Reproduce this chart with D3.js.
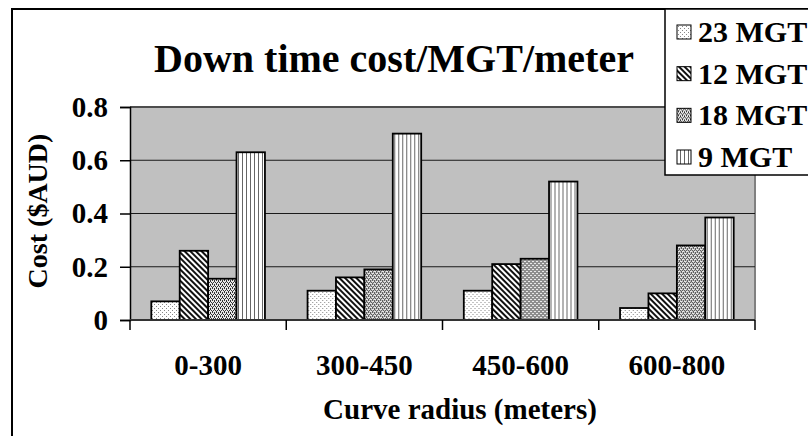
<!DOCTYPE html>
<html>
<head>
<meta charset="utf-8">
<script src="https://cdn.jsdelivr.net/npm/d3@7"></script>
<style>
  html, body { margin: 0; padding: 0; background: #fff; }
  svg { display: block; }
  text { font-family: "Liberation Serif", "Times New Roman", serif; font-weight: bold; fill: #000; }
</style>
</head>
<body>
<svg id="chart" width="808" height="436"></svg>
<script>
// Curve radius bands and MGT series
const categories = ["0-300", "300-450", "450-600", "600-800"];
const seriesNames = ["23 MGT", "12 MGT", "18 MGT", "9 MGT"];
const mgt23 = [0.07, 0.11, 0.11, 0.045];
const mgt12 = [0.26, 0.16, 0.21, 0.10];
const mgt18 = [0.155, 0.19, 0.23, 0.28];
const mgt9  = [0.63, 0.70, 0.52, 0.385];
const yTicks = [0, 0.2, 0.4, 0.6, 0.8];
const yTickLabels = ["0", "0.2", "0.4", "0.6", "0.8"];

const seriesValues = [mgt23, mgt12, mgt18, mgt9];
const patternIds = ["pat-stipple", "pat-hatch", "pat-dots", "pat-vlines"];

const svg = d3.select("#chart");
const defs = svg.append("defs");

// Light stipple
const p1 = defs.append("pattern").attr("id", "pat-stipple").attr("patternUnits", "userSpaceOnUse")
  .attr("width", 4).attr("height", 4);
p1.append("rect").attr("width", 4).attr("height", 4).attr("fill", "#fff");
p1.append("rect").attr("x", 0).attr("y", 0).attr("width", 1).attr("height", 1).attr("fill", "#888");
p1.append("rect").attr("x", 2).attr("y", 2).attr("width", 1).attr("height", 1).attr("fill", "#888");

// Dense diagonal hatching
const p2 = defs.append("pattern").attr("id", "pat-hatch").attr("patternUnits", "userSpaceOnUse")
  .attr("width", 4).attr("height", 4).attr("patternTransform", "rotate(-45)");
p2.append("rect").attr("width", 4).attr("height", 4).attr("fill", "#fff");
p2.append("rect").attr("x", 0).attr("y", 0).attr("width", 2).attr("height", 4).attr("fill", "#111");

// Dense dot grid
const p3 = defs.append("pattern").attr("id", "pat-dots").attr("patternUnits", "userSpaceOnUse")
  .attr("width", 4).attr("height", 4);
p3.append("rect").attr("width", 4).attr("height", 4).attr("fill", "#e8e8e8");
[[0,0],[2,0],[1,2],[3,2],[0,1],[2,3]].forEach(([x,y]) =>
  p3.append("rect").attr("x", x).attr("y", y).attr("width", 1).attr("height", 1).attr("fill", "#333"));

// Vertical lines
const p4 = defs.append("pattern").attr("id", "pat-vlines").attr("patternUnits", "userSpaceOnUse")
  .attr("width", 4).attr("height", 4);
p4.append("rect").attr("width", 4).attr("height", 4).attr("fill", "#fff");
p4.append("rect").attr("x", 0).attr("y", 0).attr("width", 1).attr("height", 4).attr("fill", "#666");

// Chart frame
svg.append("rect").attr("x", 12).attr("y", 9).attr("width", 900).attr("height", 600)
  .attr("fill", "#fff").attr("stroke", "#000").attr("stroke-width", 2);

const plot = { left: 130, right: 755, top: 107, bottom: 320 };

const x0 = d3.scaleBand().domain(categories).range([plot.left, plot.right]).padding(0);
const x1 = d3.scaleBand().domain(seriesNames).range([0, x0.bandwidth()])
  .paddingInner(0).paddingOuter(0.75);
const y = d3.scaleLinear().domain([0, 0.8]).range([plot.bottom, plot.top]);

// Plot area
svg.append("rect").attr("x", plot.left).attr("y", plot.top)
  .attr("width", plot.right - plot.left).attr("height", plot.bottom - plot.top)
  .attr("fill", "#c0c0c0");
svg.append("path")
  .attr("d", `M${plot.left},${plot.top}H${plot.right}V${plot.bottom}`)
  .attr("fill", "none").attr("stroke", "#808080").attr("stroke-width", 2);

// Gridlines
svg.append("g").selectAll("line").data(yTicks.filter(d => d > 0)).join("line")
  .attr("x1", plot.left).attr("x2", plot.right)
  .attr("y1", d => y(d)).attr("y2", d => y(d))
  .attr("stroke", "#1a1a1a").attr("stroke-width", 1.2);

// Bars
const groups = svg.append("g").selectAll("g").data(categories).join("g")
  .attr("transform", d => `translate(${x0(d)},0)`);
groups.selectAll("rect").data((c, ci) => seriesNames.map((s, si) => ({ s, si, v: seriesValues[si][ci] })))
  .join("rect")
  .attr("x", d => x1(d.s))
  .attr("y", d => y(d.v))
  .attr("width", x1.bandwidth())
  .attr("height", d => y(0) - y(d.v))
  .attr("fill", d => `url(#${patternIds[d.si]})`)
  .attr("stroke", "#000").attr("stroke-width", 1.8);

// Y axis
const yAxis = d3.axisLeft(y).tickValues(yTicks).tickFormat((d, i) => yTickLabels[i])
  .tickSize(10).tickPadding(12);
const gy = svg.append("g").attr("transform", `translate(${plot.left},0)`).call(yAxis);
gy.select(".domain").attr("stroke", "#000").attr("stroke-width", 1.5);
gy.selectAll(".tick line").attr("stroke", "#000").attr("stroke-width", 1.5);
gy.selectAll(".tick text").style("font-family", "'Liberation Serif', 'Times New Roman', serif")
  .style("font-weight", "bold").style("font-size", "29px").attr("fill", "#000");

// X axis baseline and category separators
svg.append("line").attr("x1", plot.left).attr("x2", plot.right)
  .attr("y1", plot.bottom).attr("y2", plot.bottom)
  .attr("stroke", "#333").attr("stroke-width", 2);
const seps = categories.map(c => x0(c)).concat([plot.right]);
svg.append("g").selectAll("line").data(seps).join("line")
  .attr("x1", d => d).attr("x2", d => d)
  .attr("y1", plot.bottom).attr("y2", plot.bottom + 10)
  .attr("stroke", "#000").attr("stroke-width", 1.5);
svg.append("g").selectAll("text").data(categories).join("text")
  .attr("x", d => x0(d) + x0.bandwidth() / 2)
  .attr("y", 375)
  .attr("text-anchor", "middle")
  .style("font-size", "29px")
  .text(d => d);

// Titles
svg.append("text").attr("x", 394).attr("y", 72).attr("text-anchor", "middle")
  .style("font-size", "40px").text("Down time cost/MGT/meter");
svg.append("text").attr("x", 460).attr("y", 419).attr("text-anchor", "middle")
  .style("font-size", "29px").text("Curve radius (meters)");
svg.append("text").attr("transform", "translate(47,211) rotate(-90)").attr("text-anchor", "middle")
  .style("font-size", "28px").text("Cost ($AUD)");

// Legend
const legend = svg.append("g");
legend.append("rect").attr("x", 665).attr("y", 9).attr("width", 200).attr("height", 166)
  .attr("fill", "#fff").attr("stroke", "#000").attr("stroke-width", 1.5);
const ly = d3.scalePoint().domain(seriesNames).range([32, 157]);
const items = legend.selectAll("g.item").data(seriesNames).join("g").attr("class", "item")
  .attr("transform", d => `translate(0,${ly(d)})`);
items.append("rect").attr("x", 677).attr("y", -7).attr("width", 14).attr("height", 14)
  .attr("fill", (d, i) => `url(#${patternIds[i]})`).attr("stroke", "#000").attr("stroke-width", 1);
items.append("text").attr("x", 698).attr("y", 10).style("font-size", "30px").text(d => d);
</script>
</body>
</html>
